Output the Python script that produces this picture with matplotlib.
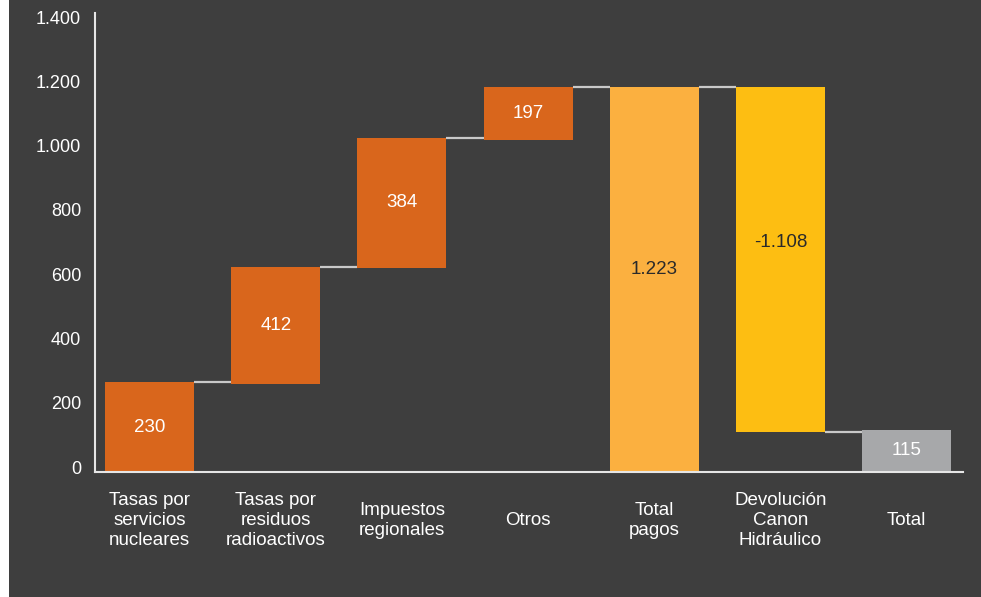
import matplotlib
matplotlib.use("Agg")
import matplotlib.pyplot as plt
import matplotlib.transforms as mtransforms
from matplotlib.patches import Rectangle

BG = "#3e3e3e"
ORANGE, LIGHT, YELLOW, GREY = "#d9661c", "#fbb040", "#fdbe12", "#a7a8aa"

categories = ["Tasas por\nservicios\nnucleares", "Tasas por\nresiduos\nradioactivos",
              "Impuestos\nregionales", "Otros", "Total\npagos",
              "Devolución\nCanon\nHidráulico", "Total"]
value_labels = ["230", "412", "384", "197", "1.223", "-1.108", "115"]
# bar extents as drawn in the picture (axis units)
bar_low = [0, 274, 635, 1033, 0, 124, 0]
bar_high = [280, 638, 1039, 1198, 1198, 1198, 131]
colors = [ORANGE, ORANGE, ORANGE, ORANGE, LIGHT, YELLOW, GREY]
text_colors = ["white", "white", "white", "white", "#2a2a2a", "#2a2a2a", "white"]
yticks = [0, 200, 400, 600, 800, 1000, 1200, 1400]
ytick_labels = ["0", "200", "400", "600", "800", "1.000", "1.200", "1.400"]

plt.rcParams["font.family"] = ["Liberation Sans", "DejaVu Sans"]

W, H = 981, 597
fig = plt.figure(figsize=(W / 100, H / 100), dpi=100, facecolor="white")
fig.patches.append(Rectangle((9 / W, 0), 1 - 9 / W, 1, transform=fig.transFigure,
                             facecolor=BG, edgecolor="none", zorder=-10))
ax = fig.add_axes([95 / W, (H - 472) / H, (963 - 95) / W, (472 - 13) / H])
ax.set_facecolor("none")

x = list(range(len(categories)))
width = 0.706
heights = [hi - lo for lo, hi in zip(bar_low, bar_high)]
ax.bar(x, heights, bottom=bar_low, width=width, color=colors, zorder=2)

# connector lines between neighbouring bars
levels = bar_high[:5] + [bar_low[5]]
for i, lv in enumerate(levels):
    ax.plot([i + width / 2, i + 1 - width / 2], [lv, lv], color="#c9c9c9", lw=1.6,
            zorder=3, solid_capstyle="butt")

# value labels
for i, (lo, hi, s, tc) in enumerate(zip(bar_low, bar_high, value_labels, text_colors)):
    y = (lo + hi) / 2
    if i == 4:
        y = lo + (hi - lo) * 0.525
    if i == 5:
        y = lo + (hi - lo) * 0.55
    ax.text(i, y, s, ha="center", va="center", color=tc, fontsize=13.5, zorder=4)

ax.set_xlim(-0.433, 6.448)
ax.set_ylim(0, 1428)
ax.set_yticks(yticks)
ax.set_yticklabels(ytick_labels)
ax.set_xticks(x)
ax.set_xticklabels(categories, linespacing=1.25)
ax.tick_params(axis="both", length=0, colors="white", labelsize=13.5)
ax.tick_params(axis="y", pad=10, labelsize=13)
ax.tick_params(axis="x", pad=35)
for lab in ax.get_xticklabels():
    lab.set_verticalalignment("center")
off = mtransforms.ScaledTranslation(0, 5 / 100, fig.dpi_scale_trans)
for lab in ax.get_yticklabels():
    lab.set_transform(lab.get_transform() + off)

for side in ["top", "right"]:
    ax.spines[side].set_visible(False)
for side in ["left", "bottom"]:
    ax.spines[side].set_color("#e6e6e6")
    ax.spines[side].set_linewidth(1.5)

fig.savefig("out.png", dpi=100, facecolor="white")
